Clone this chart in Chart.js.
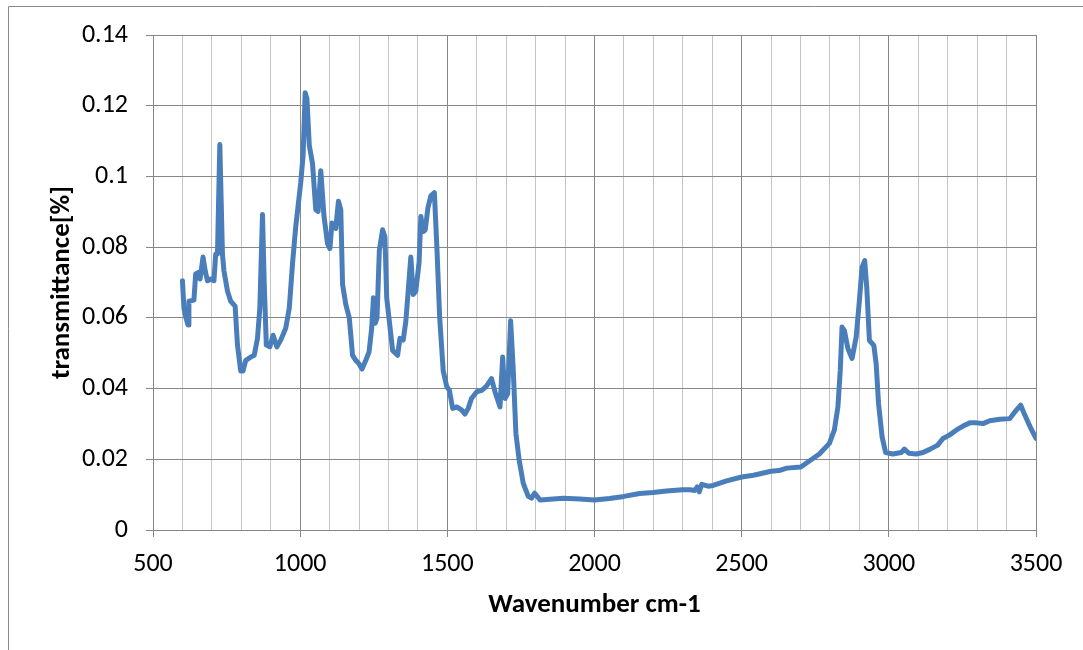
<!DOCTYPE html>
<html>
<head>
<meta charset="utf-8">
<script src="https://cdn.jsdelivr.net/npm/chart.js@4/dist/chart.umd.min.js"></script>
<style>
  html, body { margin: 0; padding: 0; background: #ffffff; }
  #wrap { position: relative; width: 1083px; height: 650px; }
</style>
</head>
<body>
<div id="wrap"><canvas id="c" width="1083" height="650"></canvas></div>
<script>
// IR spectrum: wavenumber (cm-1) against transmittance
const wavenumber = [
  600, 605, 612, 619, 622, 639, 645, 656, 660, 670, 678, 685, 696, 707, 713, 719, 727, 736, 741, 753,
  764, 779, 787, 798, 806, 815, 832, 844, 855, 863, 872, 878, 885, 897, 908, 921, 934, 951, 963, 974,
  985, 1002, 1010, 1017, 1023, 1031, 1042, 1053, 1061, 1070, 1081, 1093, 1101, 1108, 1121, 1130, 1138, 1144, 1155, 1167,
  1178, 1189, 1200, 1210, 1223, 1234, 1243, 1249, 1255, 1261, 1269, 1280, 1288, 1294, 1303, 1314, 1331, 1339, 1350, 1359,
  1367, 1376, 1384, 1393, 1404, 1410, 1418, 1425, 1434, 1444, 1456, 1465, 1474, 1486, 1498, 1507, 1518, 1532, 1549, 1560,
  1571, 1582, 1600, 1617, 1633, 1650, 1662, 1679, 1688, 1696, 1705, 1715, 1724, 1733, 1744, 1758, 1775, 1786, 1797, 1815,
  1848, 1894, 1950, 2000, 2051, 2100, 2153, 2199, 2244, 2299, 2324, 2341, 2349, 2356, 2364, 2386, 2403, 2449, 2500, 2540,
  2600, 2627, 2653, 2701, 2730, 2764, 2798, 2815, 2827, 2835, 2841, 2849, 2861, 2875, 2889, 2900, 2909, 2918, 2925, 2934,
  2949, 2957, 2965, 2977, 2989, 3014, 3042, 3053, 3068, 3093, 3116, 3139, 3166, 3184, 3207, 3230, 3252, 3275, 3298, 3320,
  3343, 3377, 3411, 3428, 3448, 3462, 3480, 3500
];
const transmittance = [
  0.0705, 0.0628, 0.0600, 0.0580, 0.0647, 0.0650, 0.0724, 0.0729, 0.0710, 0.0772, 0.0730, 0.0705, 0.0710, 0.0705, 0.0780, 0.0780, 0.1090, 0.0780, 0.0733, 0.0676,
  0.0647, 0.0633, 0.0523, 0.0450, 0.0450, 0.0480, 0.0489, 0.0494, 0.0542, 0.0628, 0.0892, 0.0695, 0.0523, 0.0518, 0.0551, 0.0518, 0.0537, 0.0571, 0.0628, 0.0753,
  0.0858, 0.0983, 0.1060, 0.1237, 0.1220, 0.1088, 0.1036, 0.0906, 0.0901, 0.1016, 0.0887, 0.0810, 0.0796, 0.0868, 0.0853, 0.0930, 0.0906, 0.0695, 0.0638, 0.0599,
  0.0494, 0.0480, 0.0470, 0.0455, 0.0480, 0.0503, 0.0571, 0.0657, 0.0585, 0.0599, 0.0791, 0.0849, 0.0829, 0.0657, 0.0590, 0.0508, 0.0494, 0.0542, 0.0537, 0.0590,
  0.0676, 0.0772, 0.0666, 0.0676, 0.0757, 0.0887, 0.0844, 0.0849, 0.0911, 0.0945, 0.0954, 0.0790, 0.0600, 0.0450, 0.0405, 0.0395, 0.0344, 0.0348, 0.0339, 0.0328,
  0.0344, 0.0372, 0.0391, 0.0395, 0.0407, 0.0428, 0.0391, 0.0348, 0.0489, 0.0372, 0.0386, 0.0592, 0.0452, 0.0273, 0.0198, 0.0132, 0.0095, 0.0090, 0.0104, 0.0085,
  0.0087, 0.0090, 0.0088, 0.0085, 0.0089, 0.0095, 0.0103, 0.0106, 0.0110, 0.0114, 0.0114, 0.0112, 0.0122, 0.0108, 0.0129, 0.0124, 0.0126, 0.0139, 0.0150, 0.0155,
  0.0166, 0.0168, 0.0175, 0.0178, 0.0195, 0.0215, 0.0245, 0.0283, 0.0348, 0.0452, 0.0574, 0.0564, 0.0513, 0.0485, 0.0546, 0.0649, 0.0743, 0.0762, 0.0686, 0.0536,
  0.0522, 0.0470, 0.0358, 0.0264, 0.0219, 0.0215, 0.0219, 0.0229, 0.0217, 0.0215, 0.0219, 0.0228, 0.0240, 0.0259, 0.0269, 0.0283, 0.0294, 0.0303, 0.0303, 0.0301,
  0.0309, 0.0313, 0.0315, 0.0334, 0.0353, 0.0325, 0.0292, 0.0259
];
const xTickLabels = [500, 1000, 1500, 2000, 2500, 3000, 3500];
const yTickLabels = [0, 0.02, 0.04, 0.06, 0.08, 0.1, 0.12, 0.14];

const FONT = "'Carlito', 'Liberation Sans', 'DejaVu Sans', sans-serif";
const MAJOR = '#878787';
const MINOR = '#c4c4c4';

const points = wavenumber.map((w, i) => ({ x: w, y: transmittance[i] }));

// outer frame of the chart area
const framePlugin = {
  id: 'frame',
  beforeDraw(chart) {
    const ctx = chart.ctx;
    ctx.save();
    ctx.fillStyle = '#ffffff';
    ctx.fillRect(0, 0, chart.width, chart.height);
    ctx.strokeStyle = '#8a8a8a';
    ctx.lineWidth = 1;
    ctx.beginPath();
    ctx.moveTo(8.5, chart.height);
    ctx.lineTo(8.5, 6.5);
    ctx.lineTo(chart.width, 6.5);
    ctx.stroke();
    ctx.restore();
  }
};

new Chart(document.getElementById('c'), {
  type: 'line',
  data: {
    datasets: [{
      data: points,
      borderColor: '#4a7ebb',
      borderWidth: 5,
      pointRadius: 0,
      tension: 0,
      borderJoinStyle: 'round',
      borderCapStyle: 'round',
      fill: false
    }]
  },
  options: {
    responsive: false,
    animation: false,
    layout: { padding: { left: 0, top: 35, right: 47, bottom: 0 } },
    plugins: { legend: { display: false }, tooltip: { enabled: false } },
    scales: {
      x: {
        type: 'linear',
        min: 500,
        max: 3500,
        afterBuildTicks(scale) {
          const t = [];
          for (let v = 500; v <= 3500; v += 100) t.push({ value: v });
          scale.ticks = t;
        },
        afterFit(scale) { scale.height = 120; },
        border: { display: true, color: MAJOR, width: 1 },
        grid: {
          color: c => (c.tick && c.tick.value % 500 === 0) ? MAJOR : MINOR,
          tickColor: c => (c.tick && c.tick.value % 500 === 0) ? MAJOR : 'rgba(0,0,0,0)',
          lineWidth: 1,
          drawTicks: true,
          tickLength: 7
        },
        ticks: {
          autoSkip: false,
          maxRotation: 0,
          padding: 12,
          color: '#000000',
          font: { family: FONT, size: 26 },
          callback: v => xTickLabels.includes(v) ? String(v) : ''
        },
        title: {
          display: true,
          text: 'Wavenumber cm-1',
          color: '#000000',
          font: { family: FONT, size: 27, weight: 'bold' },
          padding: { top: 0, bottom: 29 }
        }
      },
      y: {
        type: 'linear',
        min: 0,
        max: 0.14,
        afterBuildTicks(scale) {
          scale.ticks = yTickLabels.map(v => ({ value: v }));
        },
        afterFit(scale) { scale.width = 153; },
        border: { display: true, color: MAJOR, width: 1 },
        grid: {
          color: MAJOR,
          tickColor: MAJOR,
          lineWidth: 1,
          drawTicks: true,
          tickLength: 7
        },
        ticks: {
          padding: 18,
          color: '#000000',
          font: { family: FONT, size: 26 },
          callback: v => String(v)
        },
        title: {
          display: true,
          text: 'transmittance[%]',
          color: '#000000',
          font: { family: FONT, size: 27, weight: 'bold' },
          padding: { top: 46, bottom: 0 }
        }
      }
    }
  },
  plugins: [framePlugin]
});
</script>
</body>
</html>
